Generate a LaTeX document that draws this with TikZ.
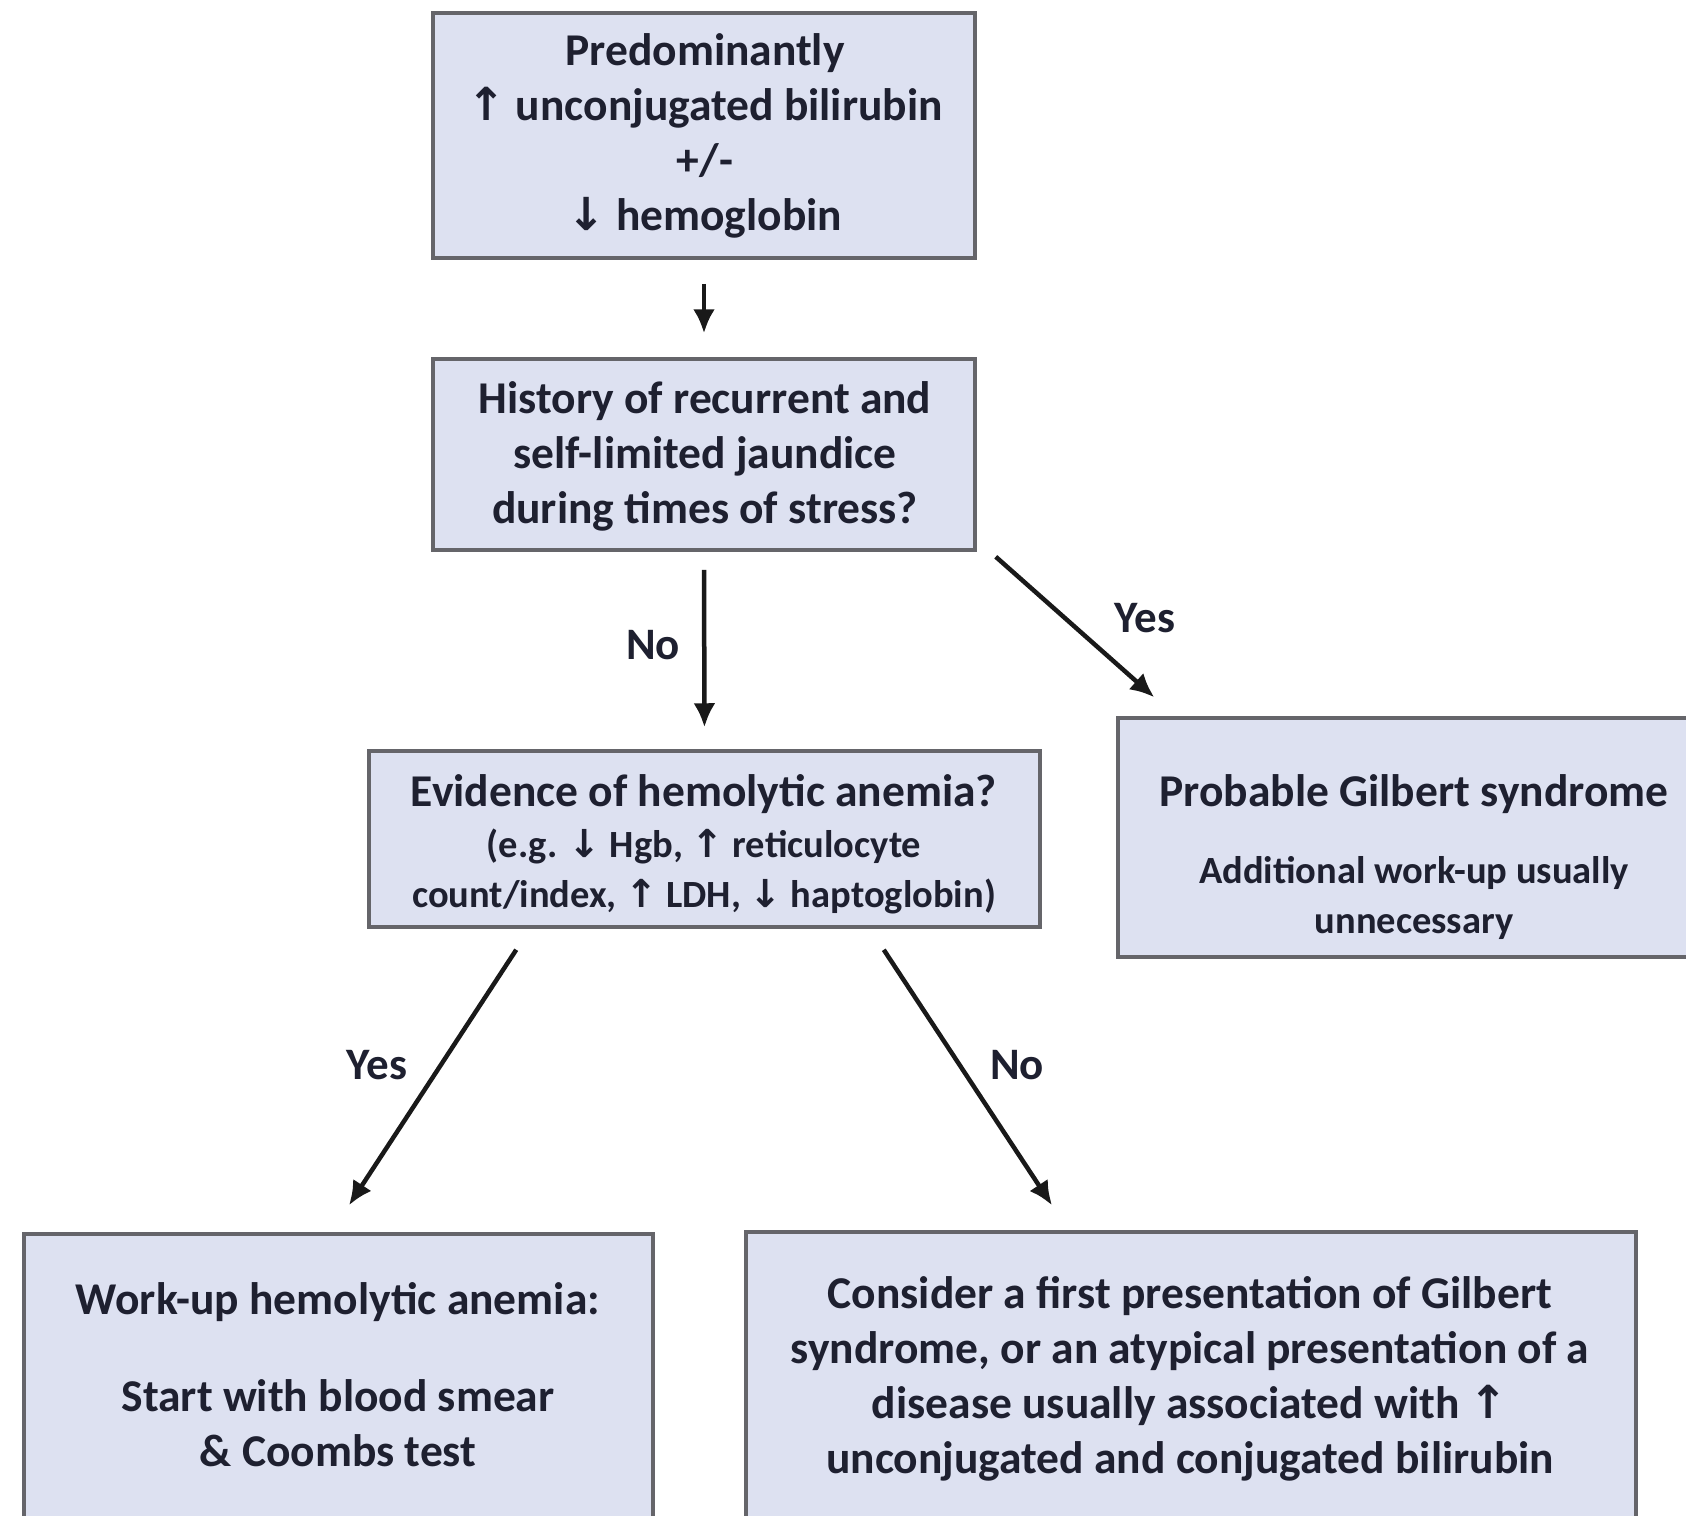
\documentclass[tikz,border=0pt]{standalone}
\usepackage{fontspec}
\setmainfont{Carlito}
\newfontfamily\arrfont{DejaVu Sans}
\usetikzlibrary{arrows.meta}
\definecolor{boxfill}{HTML}{DDE1F1}
\definecolor{boxline}{HTML}{65656A}
\definecolor{txtcol}{HTML}{1E2030}
\newcommand{\myup}{{\arrfont\bfseries\char"2191}}
\newcommand{\mydown}{{\arrfont\bfseries\char"2193}}
\begin{document}
\begin{tikzpicture}[x=1pt,y=-1pt,
  box/.style={draw=boxline, line width=3.5pt, fill=boxfill, inner sep=0pt},
  bigtxt/.style={text=txtcol, font=\bfseries\fontsize{45.5}{55}\selectfont, align=center, inner sep=0pt},
  smalltxt/.style={text=txtcol, font=\bfseries\fontsize{38.5}{50}\selectfont, align=center, inner sep=0pt},
  lbl/.style={text=txtcol, font=\bfseries\fontsize{45}{48}\selectfont, inner sep=0pt},
  arr/.style={draw=black!90, line width=4.5pt, -{Latex[length=24pt,width=22pt]}}]
\fill[white] (0,0) rectangle (1686,1515);
\useasboundingbox (0,0) rectangle (1686,1515);
\begin{scope}
\clip (0,0) rectangle (1686,1515);
% boxes
\node[box, minimum width=542pt, minimum height=245pt] (top) at (704,135.5) {};
\node[box, minimum width=542pt, minimum height=191pt] (q1) at (704,454.5) {};
\node[box, minimum width=671pt, minimum height=176pt] (q2) at (704.5,839) {};
\node[box, minimum width=602pt, minimum height=239pt] (gil) at (1419,837.5) {};
\node[box, minimum width=629pt, minimum height=286pt] (wl) at (338.5,1377) {};
\node[box, minimum width=890pt, minimum height=290pt] (br) at (1191,1377) {};
% texts
\node[bigtxt] (toptxt) at (705,135.5) {Predominantly\\\myup{} unconjugated bilirubin\\+/-\\\mydown{} hemoglobin};
\node[bigtxt] (q1txt) at (705,456) {History of recurrent and\\self-limited jaundice\\during times of stress?};
\node[bigtxt] (q2title) at (704,794) {Evidence of hemolytic anemia?};
\node[smalltxt] (q2det) at (704,871) {(e.g. \mydown{} Hgb, \myup{} reticulocyte\\count/index, \myup{} LDH, \mydown{} haptoglobin)};
\node[bigtxt] (giltitle) at (1414,794) {Probable Gilbert syndrome};
\node[smalltxt] (gildet) at (1414,898) {Additional work-up usually\\unnecessary};
\node[bigtxt] (wltitle) at (338,1302) {Work-up hemolytic anemia:};
\node[bigtxt] (wldet) at (338,1423) {Start with blood smear\\\& Coombs test};
\node[bigtxt] (brtxt) at (1190,1379) {Consider a first presentation of Gilbert\\syndrome, or an atypical presentation of a\\disease usually associated with \myup{}\\unconjugated and conjugated bilirubin};
\end{scope}
% connectors
\draw[arr, shorten <=24pt, shorten >=24pt] (top) -- (q1);
\draw[arr, shorten <=18pt, shorten >=22pt] (q1.south) -- (q2.north);
\draw[arr] ([shift={(19,5)}]q1.south east) -- ([shift={(38,-19)}]gil.north west);
\draw[arr] ([shift={(149,21)}]q2.south west) -- ([shift={(10.5,-27)}]wl.north);
\draw[arr] ([shift={(-158,21)}]q2.south east) -- ([shift={(-139,-25)}]br.north);
% labels
\node[lbl] (lno1) at (653,645) {No};
\node[lbl] (lyes1) at (1145,618) {Yes};
\node[lbl] (lyes2) at (377,1065) {Yes};
\node[lbl] (lno2) at (1017,1065) {No};
\end{tikzpicture}
\end{document}
